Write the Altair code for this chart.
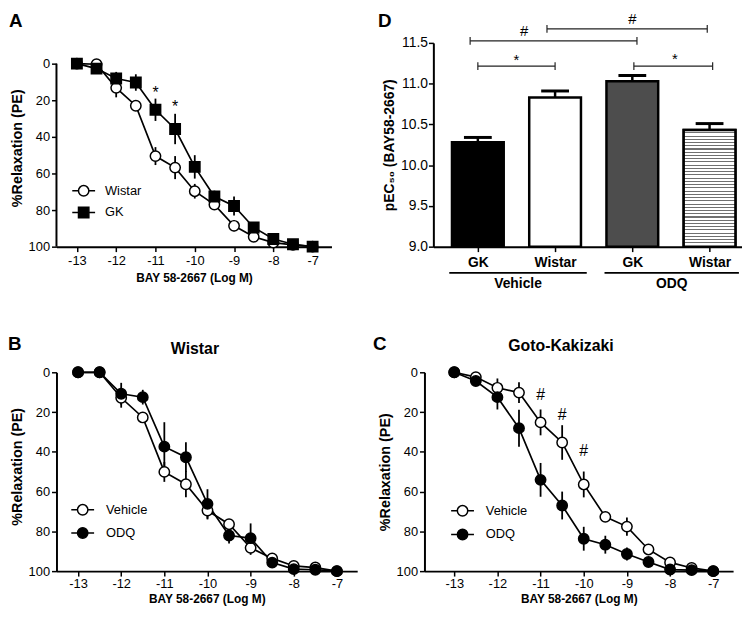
import altair as alt
import pandas as pd

FONT = "Liberation Sans"

# ---------------- data ----------------
conc = [-13, -12.5, -12, -11.5, -11, -10.5, -10, -9.5, -9, -8.5, -8, -7.5, -7]
conc_ticks = [-13, -12, -11, -10, -9, -8, -7]
relax_ticks = [0, 20, 40, 60, 80, 100]

# Panel A
a_groups = ["Wistar", "GK"]
a_wistar = [0, 0.3, 13.2, 23.0, 50.5, 56.8, 69.7, 77.0, 88.6, 94.6, 97.8, 99.0, 100]
a_wistar_sem = [0, 0, 5.2, 2.0, 4.9, 6.3, 4.0, 2.0, 3.0, 1.5, 0.5, 0, 0]
a_gk = [0, 2.7, 8.1, 10.3, 25.2, 35.7, 56.4, 72.6, 77.8, 89.5, 95.8, 98.7, 100]
a_gk_sem = [0, 1.5, 3.6, 4.5, 6.1, 8.3, 6.4, 3.2, 5.2, 2.2, 1.0, 0.5, 0]
a_sig_x = [-11, -10.5]
a_sig_y = [18.5, 26.5]
a_sig_t = ["*", "*"]

# Panel B (Wistar)
b_groups = ["Vehicle", "ODQ"]
b_vehicle = [0, 0, 12.8, 22.7, 50.1, 56.3, 69.5, 76.4, 88.3, 93.6, 97.4, 98.2, 100]
b_vehicle_sem = [0, 0, 5.0, 2.0, 5.0, 6.5, 4.5, 2.0, 3.5, 1.5, 0.5, 0, 0]
b_odq = [0, 0, 10.8, 12.5, 37.4, 42.7, 66.2, 82.1, 83.4, 95.7, 99.0, 99.3, 100]
b_odq_sem = [0, 0, 5.5, 3.7, 12.3, 7.5, 7.4, 4.0, 7.4, 1.5, 0.5, 0, 0]

# Panel C (Goto-Kakizaki)
c_groups = ["Vehicle", "ODQ"]
c_vehicle = [0, 2.4, 7.8, 10.2, 25.2, 35.3, 56.4, 72.7, 77.6, 89.1, 95.6, 98.4, 100]
c_vehicle_sem = [0, 1.0, 4.7, 5.2, 6.5, 8.7, 6.5, 2.0, 4.6, 2.0, 1.0, 0.5, 0]
c_odq = [0, 4.4, 12.5, 28.1, 54.1, 67.0, 83.7, 86.7, 91.4, 95.4, 99.2, 99.5, 100]
c_odq_sem = [0, 1.0, 6.2, 9.3, 8.5, 7.0, 6.0, 4.5, 3.3, 2.0, 0.5, 0, 0]
c_sig_x = [-11, -10.5, -10]
c_sig_y = [13.8, 23.8, 42.0]
c_sig_t = ["#", "#", "#"]

# Panel D (pEC50)
d_strain = ["GK", "Wistar", "GK", "Wistar"]
d_pos = [0, 1, 2, 3]
d_mean = [10.28, 10.83, 11.03, 10.43]
d_sem = [0.06, 0.08, 0.07, 0.08]
d_treat = ["Vehicle", "ODQ"]
d_treat_x1 = [-0.37, 1.64]
d_treat_x2 = [1.41, 3.38]
d_y_ticks = [9.0, 9.5, 10.0, 10.5, 11.0, 11.5]
d_br_x1 = [0.0, -0.10, 0.895, 2.02]
d_br_x2 = [1.0, 2.06, 2.97, 3.04]
d_br_y = [11.215, 11.524, 11.672, 11.215]
d_br_lab = ["*", "#", "#", "*"]
d_br_lab_x = [0.5, 0.6, 2.0, 2.55]
d_br_lab_y = [11.23, 11.59, 11.735, 11.24]

# ---------------- styles ----------------
LINE_W = 1.7
PT_SIZE = 110
CIRC = "M-2.2,0L-1,0M1,0L2.2,0M-1,0A1,1,0,1,1,1,0A1,1,0,1,1,-1,0Z"
SQR = "M-2.2,0L-1,0M1,0L2.2,0M-1,-1L1,-1L1,1L-1,1Z"
BAR_FILLS = ["black", "white", "#4d4d4d", "white"]
BAR_HALF = 0.335
CAP_HALF = 0.18

n_stripes = 36
stops = []
for k in range(n_stripes):
    a = k / n_stripes
    b = (k + 0.68) / n_stripes
    c = (k + 1) / n_stripes
    stops += [
        alt.GradientStop(offset=a, color="white"),
        alt.GradientStop(offset=b, color="white"),
        alt.GradientStop(offset=b, color="#707070"),
        alt.GradientStop(offset=c, color="#707070"),
    ]
HATCH = alt.LinearGradient(gradient="linear", stops=stops, x1=0, x2=0, y1=0, y2=1)


def text_layer(txt, x, y, size, weight="bold", align="left", baseline="top"):
    return alt.Chart(pd.DataFrame({"t": [txt]})).mark_text(
        font=FONT, fontSize=size, fontWeight=weight, align=align, baseline=baseline,
        color="black",
    ).encode(x=alt.value(x), y=alt.value(y), text="t:N")


def curve_panel(letter, letter_xy, title, title_xy, groups, series, sems, shapes, fills,
                legend_shape, legend_xy, label_offset, row_pad, sig, w, h, xdom, ytop,
                ytitle_y, xlab_pad, xtitle_pad):
    rows = []
    for g, vals, errs in zip(groups, series, sems):
        for x, v, e in zip(conc, vals, errs):
            rows.append({"x": x, "y": v, "lo": v - e, "hi": v + e, "g": g})
    df = pd.DataFrame(rows)

    xs = alt.Scale(domain=xdom, nice=False, zero=False)
    ys = alt.Scale(domain=[ytop, 100], reverse=True, nice=False, zero=False)
    x_axis = alt.Axis(values=conc_ticks, labelExpr="'' + datum.value",
                      title="BAY 58-2667 (Log M)", labelFlush=False, labelOverlap=False,
                      labelPadding=xlab_pad, titlePadding=xtitle_pad, titleFontSize=12,
                      tickSize=5)
    yargs = dict(values=relax_ticks, title="%Relaxation (PE)", labelFlush=False,
                 labelOverlap=False, labelPadding=2, titlePadding=4, titleFontSize=14.5,
                 tickSize=5, domain=(ytop == 0))
    if ytitle_y is not None:
        yargs["titleY"] = ytitle_y
    y_axis = alt.Axis(**yargs)

    X = alt.X("x:Q", scale=xs, axis=x_axis)
    Y = lambda f: alt.Y(f, scale=ys, axis=y_axis)
    base = alt.Chart(df)
    layers = []
    if ytop != 0:
        # y axis line covering only the 0-100 range
        layers.append(alt.Chart(pd.DataFrame({"a": [relax_ticks[0]], "b": [relax_ticks[-1]]}))
                      .mark_rule(color="black", strokeWidth=2)
                      .encode(x=alt.value(0), y=Y("a:Q"), y2="b:Q"))
    err = base.mark_rule(color="black", strokeWidth=1.8).encode(
        x=X, y=Y("lo:Q"), y2="hi:Q", detail="g:N")
    line = base.mark_line(color="black", strokeWidth=LINE_W).encode(
        x=X, y=Y("y:Q"), detail="g:N")
    layers += [err, line]
    legend = alt.Legend(
        title=None, orient="none", legendX=legend_xy[0], legendY=legend_xy[1],
        symbolSize=PT_SIZE, symbolStrokeColor="black", symbolStrokeWidth=1.5,
        labelFont=FONT, labelFontSize=13, labelColor="black", labelOffset=label_offset,
        rowPadding=row_pad, padding=0, symbolType=legend_shape)
    fill_scale = alt.Scale(domain=groups, range=fills)
    for g, shp in zip(groups, shapes):
        layers.append(
            base.transform_filter(alt.datum.g == g)
            .mark_point(filled=True, shape=shp, size=PT_SIZE, stroke="black",
                        strokeWidth=1.5, opacity=1)
            .encode(x=X, y=Y("y:Q"), fill=alt.Fill("g:N", scale=fill_scale, legend=legend)))
    if sig is not None:
        sdf = pd.DataFrame({"x": sig[0], "y": sig[1], "t": sig[2]})
        layers.append(alt.Chart(sdf).mark_text(
            font=FONT, fontSize=16, baseline="alphabetic", align="center", color="black"
        ).encode(x=X, y=Y("y:Q"), text="t:N"))
    layers.append(text_layer(letter, letter_xy[0], letter_xy[1], 19))
    if title is not None:
        layers.append(text_layer(title, title_xy[0], title_xy[1], 16, align="center",
                                 baseline="middle"))
    return alt.layer(*layers).properties(width=w, height=h)


# ---------------- panels ----------------
ROW1_H = 206
ROW2_H = 201

panel_a = curve_panel(
    "A", (-48, -31.4), None, None, a_groups, [a_wistar, a_gk], [a_wistar_sem, a_gk_sem],
    ["circle", "square"], ["white", "black"],
    alt.ExprRef(expr="datum.value === 'GK' ? '%s' : '%s'" % (SQR, CIRC)),
    (21, 143), 15, 5, (a_sig_x, a_sig_y, a_sig_t), 278, ROW1_H, [-13.52, -6.52], -11.35,
    106, 3.5, 5)

panel_b = curve_panel(
    "B", (-49, -37.4), "Wistar", (140, -24), b_groups, [b_vehicle, b_odq],
    [b_vehicle_sem, b_odq_sem], ["circle", "circle"], ["white", "black"],
    CIRC, (20, 132.5), 17, 6.5, None, 304, ROW2_H, [-13.5, -6.53], 0,
    95, 2, 3)

panel_c = curve_panel(
    "C", (-52, -37.4), "Goto-Kakizaki", (138, -27), c_groups, [c_vehicle, c_odq],
    [c_vehicle_sem, c_odq_sem], ["circle", "circle"], ["white", "black"],
    CIRC, (32, 133.5), 17, 7, (c_sig_x, c_sig_y, c_sig_t), 312, ROW2_H,
    [-13.69, -6.54], 0, None, 2, 3)

# Panel D
D_W, D_H = 312, ROW1_H
dxs = alt.Scale(domain=[-0.576, 3.42], nice=False, zero=False)
dys = alt.Scale(domain=[9.0, 11.5], nice=False, zero=False)
label_expr = "[" + ",".join("'%s'" % s for s in d_strain) + "][datum.value]"
d_x_axis = alt.Axis(values=d_pos, labelExpr=label_expr, title=None, labelFontWeight="bold",
                    labelFontSize=14, labelFlush=False, labelOverlap=False, labelPadding=4,
                    tickSize=5)
d_y_axis = alt.Axis(values=d_y_ticks, format=".1f", title="pEC₅₀ (BAY58-2667)",
                    labelFontSize=14, titleFontSize=14, labelPadding=1, titlePadding=4,
                    labelFlush=False, labelOverlap=False, tickSize=5)

d_df = pd.DataFrame({"pos": d_pos, "mean": d_mean, "sem": d_sem})
d_base = alt.Chart(d_df).transform_calculate(
    x1="datum.pos - %f" % BAR_HALF, x2="datum.pos + %f" % BAR_HALF,
    hi="datum.mean + datum.sem", c1="datum.pos - %f" % CAP_HALF,
    c2="datum.pos + %f" % CAP_HALF)

DX = lambda f: alt.X(f, scale=dxs, axis=d_x_axis)
DY = lambda f: alt.Y(f, scale=dys, axis=d_y_axis)

bars = d_base.mark_bar(stroke="black", strokeWidth=2.5).encode(
    x=DX("x1:Q"), x2="x2:Q", y=DY("mean:Q"), y2=alt.datum(9.0),
    fill=alt.Fill("pos:N", scale=alt.Scale(domain=d_pos, range=BAR_FILLS), legend=None))
hatch = d_base.transform_filter("datum.pos == %d" % d_pos[3]).mark_bar(
    fill=HATCH, stroke="black", strokeWidth=2.5).encode(
    x=DX("x1:Q"), x2="x2:Q", y=DY("mean:Q"), y2=alt.datum(9.0))
d_err = d_base.mark_rule(color="black", strokeWidth=2.5).encode(
    x=DX("pos:Q"), y=DY("mean:Q"), y2="hi:Q")
d_cap = d_base.mark_rule(color="black", strokeWidth=3).encode(
    x=DX("c1:Q"), x2="c2:Q", y=DY("hi:Q"))

br_df = pd.DataFrame({"x1": d_br_x1, "x2": d_br_x2, "y": d_br_y})
brackets = alt.Chart(br_df).mark_rule(color="#222222", strokeWidth=1.2).encode(
    x=DX("x1:Q"), x2="x2:Q", y=DY("y:Q"))
brc_df = pd.DataFrame({"x": d_br_x1 + d_br_x2, "y": d_br_y + d_br_y})
br_caps = alt.Chart(brc_df).transform_calculate(
    ya="datum.y - 0.048", yb="datum.y + 0.048").mark_rule(
    color="#222222", strokeWidth=1.2).encode(x=DX("x:Q"), y=DY("ya:Q"), y2="yb:Q")
brl_df = pd.DataFrame({"x": d_br_lab_x, "y": d_br_lab_y, "t": d_br_lab})
br_labels = alt.Chart(brl_df).mark_text(
    font=FONT, fontSize=15, baseline="alphabetic", align="center", color="black").encode(
    x=DX("x:Q"), y=DY("y:Q"), text="t:N")

grp_df = pd.DataFrame({"x1": d_treat_x1, "x2": d_treat_x2, "t": d_treat})
grp_rules = alt.Chart(grp_df).mark_rule(color="black", strokeWidth=2).encode(
    x=DX("x1:Q"), x2="x2:Q", y=alt.value(D_H + 26.5))
grp_labels = alt.Chart(grp_df).transform_calculate(
    xc="(datum.x1 + datum.x2) / 2").mark_text(
    font=FONT, fontSize=14, fontWeight="bold", baseline="middle", align="center",
    color="black").encode(x=DX("xc:Q"), y=alt.value(D_H + 37.5), text="t:N")

panel_d = alt.layer(
    bars, hatch, d_err, d_cap, brackets, br_caps, br_labels, grp_rules, grp_labels,
    text_layer("D", -56, -31.4, 19)
).properties(width=D_W, height=D_H)

# ---------------- layout ----------------
def indep(ch):
    return ch.resolve_scale(fill="independent", shape="independent").resolve_legend(
        fill="independent", shape="independent")

row1 = indep(alt.hconcat(panel_a, panel_d, spacing=47))
row2 = indep(alt.hconcat(panel_b, panel_c, spacing=16))
chart = indep(alt.vconcat(row1, row2, spacing=44)).properties(
    padding={"left": 0, "top": 0, "right": 0, "bottom": 0}
).configure_view(stroke=None).configure_axis(
    domainColor="black", domainWidth=2, tickColor="black", tickWidth=1.5,
    labelColor="black", titleColor="black", labelFont=FONT, titleFont=FONT,
    labelFontSize=13, titleFontWeight="bold", grid=False
)

chart.save("out.html", embed_options={"renderer": "svg", "actions": False})
